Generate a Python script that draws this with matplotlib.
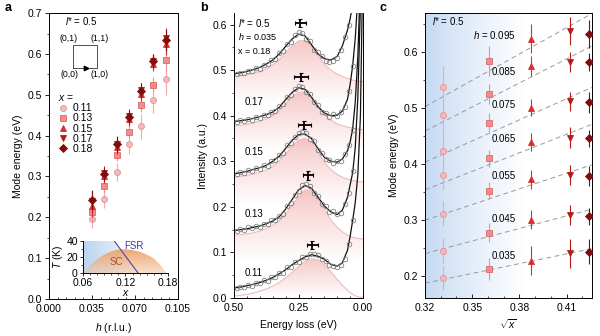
import numpy as np
import matplotlib
import matplotlib.pyplot as plt
from matplotlib.colors import to_rgb
from matplotlib.lines import Line2D
from matplotlib.ticker import MultipleLocator, FixedLocator

matplotlib.use('Agg')

plt.rcParams['font.family'] = ['Liberation Sans', 'DejaVu Sans']
plt.rcParams['mathtext.fontset'] = 'custom'
plt.rcParams['mathtext.rm'] = 'Liberation Sans'
plt.rcParams['mathtext.it'] = 'Liberation Sans:italic'
plt.rcParams['font.size'] = 7.5
plt.rcParams['axes.linewidth'] = 0.7

# ============================================================================
# 数据
# ============================================================================

h_vals = [0.035, 0.045, 0.055, 0.065, 0.075, 0.085, 0.095]
dopings = [0.11, 0.13, 0.15, 0.17, 0.18]
doping_labels = ['0.11', '0.13', '0.15', '0.17', '0.18']

# 模式能量 (eV)，每个掺杂量对应 h_vals
e_x011 = [0.196, 0.245, 0.311, 0.380, 0.423, 0.487, 0.538]
e_x013 = [0.212, 0.277, 0.352, 0.410, 0.474, 0.525, 0.584]
e_x015 = [0.227, 0.300, 0.373, 0.440, 0.501, 0.576, 0.624]
e_x017 = [0.240, 0.308, 0.380, 0.447, 0.512, 0.582, 0.638]
e_x018 = [0.243, 0.306, 0.379, 0.446, 0.510, 0.583, 0.633]

err_x011 = [0.021, 0.022, 0.022, 0.025, 0.030, 0.032, 0.038]
err_x013 = [0.020, 0.017, 0.015, 0.015, 0.017, 0.018, 0.027]
err_x015 = [0.026, 0.017, 0.017, 0.016, 0.016, 0.018, 0.026]
err_x017 = [0.026, 0.018, 0.018, 0.019, 0.017, 0.018, 0.025]
err_x018 = [0.022, 0.016, 0.018, 0.015, 0.018, 0.016, 0.025]

# RIXS 谱 (h = 0.035)：拟合曲线、峰分量、实验点
E_fit = [0.50, 0.475, 0.45, 0.425, 0.40, 0.375, 0.35, 0.325, 0.30, 0.275, 0.25,
         0.225, 0.20, 0.175, 0.15, 0.125, 0.10, 0.08, 0.06, 0.05, 0.04, 0.03,
         0.02, 0.01, 0.0]

fit_018 = [0.492, 0.494, 0.497, 0.501, 0.506, 0.513, 0.522, 0.535, 0.552, 0.568, 0.579,
           0.575, 0.556, 0.536, 0.525, 0.522, 0.530, 0.553, 0.588, 0.612, 0.645, 0.70,
           0.80, 0.95, 1.15]
fit_017 = [0.387, 0.389, 0.391, 0.394, 0.398, 0.402, 0.408, 0.418, 0.435, 0.451, 0.461,
           0.458, 0.441, 0.420, 0.406, 0.400, 0.401, 0.410, 0.436, 0.468, 0.51, 0.57,
           0.66, 0.80, 1.0]
fit_015 = [0.272, 0.275, 0.278, 0.282, 0.286, 0.291, 0.300, 0.311, 0.328, 0.346, 0.358,
           0.360, 0.350, 0.328, 0.309, 0.300, 0.298, 0.305, 0.323, 0.342, 0.371, 0.43,
           0.53, 0.70, 0.95]
fit_013 = [0.148, 0.150, 0.152, 0.155, 0.158, 0.163, 0.169, 0.178, 0.195, 0.216, 0.237,
           0.247, 0.241, 0.222, 0.202, 0.189, 0.183, 0.193, 0.221, 0.248, 0.275, 0.33,
           0.44, 0.64, 0.90]
fit_011 = [0.022, 0.024, 0.027, 0.030, 0.034, 0.039, 0.045, 0.053, 0.062, 0.073, 0.082,
           0.090, 0.095, 0.092, 0.085, 0.074, 0.070, 0.077, 0.105, 0.135, 0.17, 0.21,
           0.27, 0.40, 0.75]

peak_018 = [0.486, 0.488, 0.490, 0.493, 0.497, 0.503, 0.511, 0.523, 0.538, 0.553, 0.564,
            0.565, 0.552, 0.532, 0.513, 0.500, 0.491, 0.486, 0.482, 0.480, 0.478, 0.477,
            0.476, 0.475, 0.475]
peak_017 = [0.378, 0.379, 0.381, 0.384, 0.388, 0.393, 0.400, 0.411, 0.426, 0.441, 0.451,
            0.452, 0.440, 0.420, 0.402, 0.390, 0.382, 0.378, 0.375, 0.374, 0.373, 0.372,
            0.371, 0.370, 0.370]
peak_015 = [0.265, 0.267, 0.269, 0.272, 0.276, 0.281, 0.289, 0.300, 0.316, 0.333, 0.346,
            0.350, 0.341, 0.320, 0.298, 0.282, 0.271, 0.265, 0.261, 0.259, 0.258, 0.257,
            0.256, 0.255, 0.255]
peak_013 = [0.138, 0.139, 0.141, 0.143, 0.147, 0.152, 0.159, 0.169, 0.184, 0.203, 0.223,
            0.237, 0.237, 0.221, 0.196, 0.172, 0.155, 0.145, 0.138, 0.135, 0.133, 0.132,
            0.131, 0.130, 0.130]
peak_011 = [0.004, 0.006, 0.008, 0.011, 0.015, 0.020, 0.026, 0.034, 0.044, 0.056, 0.069,
            0.080, 0.086, 0.084, 0.074, 0.058, 0.041, 0.028, 0.017, 0.012, 0.008, 0.005,
            0.003, 0.002, 0.002]

E_pts = [0.49, 0.475, 0.46, 0.445, 0.43, 0.415, 0.40, 0.385, 0.37, 0.355, 0.34, 0.325,
         0.31, 0.295, 0.28, 0.265, 0.25, 0.235, 0.22, 0.205, 0.19, 0.175, 0.16, 0.145,
         0.13, 0.115, 0.10, 0.085, 0.07, 0.055, 0.04]

pts_018 = [0.491, 0.494, 0.493, 0.499, 0.498, 0.505, 0.503, 0.512, 0.513, 0.523, 0.524,
           0.538, 0.542, 0.558, 0.562, 0.576, 0.584, 0.582, 0.569, 0.563, 0.545, 0.539,
           0.532, 0.519, 0.518, 0.521, 0.527, 0.544, 0.572, 0.598, 0.647]
pts_017 = [0.386, 0.390, 0.388, 0.393, 0.391, 0.397, 0.396, 0.402, 0.401, 0.409, 0.410,
           0.421, 0.425, 0.441, 0.446, 0.459, 0.465, 0.463, 0.452, 0.448, 0.430, 0.423,
           0.408, 0.406, 0.398, 0.403, 0.399, 0.409, 0.420, 0.455, 0.508]
pts_015 = [0.271, 0.276, 0.275, 0.281, 0.279, 0.286, 0.284, 0.291, 0.290, 0.301, 0.302,
           0.314, 0.318, 0.335, 0.340, 0.354, 0.361, 0.364, 0.361, 0.349, 0.345, 0.325,
           0.319, 0.304, 0.303, 0.296, 0.300, 0.301, 0.316, 0.336, 0.368]
pts_013 = [0.147, 0.151, 0.149, 0.155, 0.153, 0.158, 0.156, 0.163, 0.162, 0.171, 0.171,
           0.181, 0.185, 0.202, 0.209, 0.227, 0.234, 0.247, 0.250, 0.246, 0.231, 0.224,
           0.206, 0.201, 0.188, 0.190, 0.185, 0.187, 0.207, 0.231, 0.278]
pts_011 = [0.021, 0.025, 0.024, 0.029, 0.027, 0.034, 0.032, 0.039, 0.038, 0.047, 0.046,
           0.056, 0.056, 0.067, 0.069, 0.080, 0.079, 0.090, 0.089, 0.097, 0.096, 0.094,
           0.085, 0.081, 0.073, 0.070, 0.069, 0.072, 0.086, 0.118, 0.172]

# 相图插图：超导穹顶
dome_x = [0.06, 0.07, 0.08, 0.09, 0.10, 0.11, 0.12, 0.13, 0.14, 0.15, 0.16, 0.17, 0.177]
dome_T = [0, 10, 17, 23, 27, 29.5, 29.5, 28.5, 26.5, 23, 18, 9, 0]
fsr_x = [0.104, 0.138]
fsr_T = [40, 0]

# ============================================================================
# 样式
# ============================================================================

MARKERS = ['o', 's', '^', 'v', 'D']
FACE = ['#f6b9b9', '#ef8c8c', '#dc2c2c', '#b41c1c', '#7e0e0e']
EDGE = ['#e09393', '#d86a6a', '#dc2c2c', '#b41c1c', '#7e0e0e']
ECOL = ['#f2a9a9', '#ee9090', '#dc2c2c', '#b41c1c', '#7e0e0e']
MSIZE = [4.3, 4.3, 4.6, 4.6, 3.9]

energies = [e_x011, e_x013, e_x015, e_x017, e_x018]
errors = [err_x011, err_x013, err_x015, err_x017, err_x018]
fits = [fit_011, fit_013, fit_015, fit_017, fit_018]
peaks = [peak_011, peak_013, peak_015, peak_017, peak_018]
points = [pts_011, pts_013, pts_015, pts_017, pts_018]

LSTAR = r'$l$* = 0.5'


def style_ticks(ax):
    ax.tick_params(axis='y', which='both', direction='out')
    ax.tick_params(axis='x', which='both', direction='in')
    ax.tick_params(which='major', length=3, width=0.6, pad=2)
    ax.tick_params(axis='x', which='major', pad=3.5)
    ax.tick_params(which='minor', length=1.6, width=0.5)


def gradient_fill(ax, x, ytop, ybot, color, alpha, zorder):
    """在 ytop 与 ybot 之间画竖直渐变（下淡上浓）"""
    poly = ax.fill_between(x, ytop, ybot, facecolor='none', edgecolor='none')
    path = poly.get_paths()[0]
    rgba = np.ones((120, 1, 4))
    rgba[:, :, :3] = to_rgb(color)
    rgba[:, 0, 3] = np.linspace(0, alpha, 120)
    im = ax.imshow(rgba, aspect='auto', origin='lower', zorder=zorder,
                   extent=[min(x), max(x), min(ybot), max(ytop)], interpolation='bilinear')
    im.set_clip_path(path, transform=ax.transData)


fig = plt.figure(figsize=(6.0, 3.36), dpi=100)

# ============================================================================
# a: 模式能量 vs h
# ============================================================================

ax_a = fig.add_axes([0.0817, 0.110, 0.215, 0.851])
for i in range(len(dopings)):
    ax_a.errorbar(h_vals, energies[i], yerr=errors[i], fmt=MARKERS[i], ms=MSIZE[i],
                  mfc=FACE[i], mec=EDGE[i], mew=0.6, ecolor=ECOL[i], elinewidth=0.8,
                  capsize=0, zorder=3 + i)
ax_a.set_xlim(0, 0.105)
ax_a.set_ylim(0, 0.7)
ax_a.xaxis.set_major_locator(FixedLocator([0, 0.035, 0.070, 0.105]))
ax_a.set_xticklabels(['0.000', '0.035', '0.070', '0.105'])
ax_a.xaxis.set_minor_locator(MultipleLocator(0.007))
ax_a.yaxis.set_major_locator(MultipleLocator(0.1))
ax_a.yaxis.set_minor_locator(MultipleLocator(0.05))
ax_a.set_xlabel(r'$h$ (r.l.u.)', labelpad=5)
ax_a.set_ylabel('Mode energy (eV)', labelpad=3)
style_ticks(ax_a)

handles = [Line2D([], [], ls='none', marker=MARKERS[i], ms=MSIZE[i], mfc=FACE[i],
                  mec=EDGE[i], mew=0.6) for i in range(len(dopings))]
leg = ax_a.legend(handles, doping_labels, title=r'$x$ =', loc='upper left',
                  bbox_to_anchor=(0.04, 0.735), frameon=False, handlelength=0.9,
                  handletextpad=0.5, labelspacing=0.02, borderaxespad=0,
                  alignment='left', fontsize=7.5, title_fontsize=7.5)

# 布里渊区示意
tA = ax_a.transAxes
ax_a.plot([0.188, 0.370, 0.370, 0.188, 0.188], [0.809, 0.809, 0.888, 0.888, 0.809],
          color='#333333', lw=0.6, transform=tA)
ax_a.plot([0.287], [0.809], marker='>', ms=3.2, color='k', transform=tA)
ax_a.text(0.155, 0.912, '(0,1)', transform=tA, ha='center', va='center', fontsize=6.3)
ax_a.text(0.395, 0.912, '(1,1)', transform=tA, ha='center', va='center', fontsize=6.3)
ax_a.text(0.155, 0.785, '(0,0)', transform=tA, ha='center', va='center', fontsize=6.3)
ax_a.text(0.395, 0.785, '(1,0)', transform=tA, ha='center', va='center', fontsize=6.3)
ax_a.text(0.125, 0.972, LSTAR, transform=tA, ha='left', va='center', fontsize=7)

# 相图插图
ax_in = fig.add_axes([0.1378, 0.1866, 0.1427, 0.097])
poly_x = [0.06, 0.06, fsr_x[0], fsr_x[1]]
poly_T = [0, 40, fsr_T[0], fsr_T[1]]
blue = ax_in.fill(poly_x, poly_T, facecolor='none', edgecolor='none')[0]
grad = np.ones((1, 200, 4))
grad[0, :, :3] = to_rgb('#b7d0f0')
grad[0, :, 3] = np.linspace(0.95, 0.05, 200)
im = ax_in.imshow(grad, aspect='auto', extent=[0.06, 0.14, 0, 40], zorder=1,
                  interpolation='bilinear')
im.set_clip_path(blue)
gradient_fill(ax_in, dome_x, dome_T, [0] * len(dome_x), '#ee9f66', 0.9, 2)
ax_in.fill_between(dome_x, dome_T, 0, color='#f5c7a2', alpha=0.55, lw=0, zorder=1.5)
ax_in.plot(fsr_x, fsr_T, color='#4646a8', lw=0.8, zorder=3)
ax_in.text(0.118, 33, 'FSR', color='#3c3ca0', fontsize=7, va='center', ha='left')
ax_in.text(0.107, 14, 'SC', color='#a4532a', fontsize=7, va='center', ha='center')
ax_in.set_xlim(0.06, 0.18)
ax_in.set_ylim(0, 40)
ax_in.set_xticks([0.06, 0.12, 0.18])
ax_in.set_xticklabels(['0.06', '0.12', '0.18'])
ax_in.set_yticks([0, 20, 40])
ax_in.xaxis.set_minor_locator(MultipleLocator(0.01))
ax_in.yaxis.set_minor_locator(MultipleLocator(10))
for side in ['top', 'right']:
    ax_in.spines[side].set_visible(False)
ax_in.set_facecolor('none')
ax_in.tick_params(which='major', length=2.5, width=0.6, pad=1, labelsize=7.5)
ax_in.tick_params(which='minor', length=1.4, width=0.5)
ax_in.set_xlabel(r'$x$', labelpad=0, fontsize=7.5)
ax_in.set_ylabel(r'$T$ (K)', labelpad=1, fontsize=7.5)

# ============================================================================
# b: RIXS 谱
# ============================================================================

ax_b = fig.add_axes([0.39, 0.113, 0.215, 0.848])
for i in range(len(dopings)):
    base = 0.0 if i == 0 else min(peaks[i]) - 0.05
    gradient_fill(ax_b, E_fit, peaks[i], [base] * len(E_fit), '#ee9c9c', 0.55, 1)
    ax_b.plot(E_fit, peaks[i], color='#efbcbc', lw=0.8, zorder=2)
    ax_b.plot(E_fit, fits[i], color='#111111', lw=0.9, zorder=3)
    ax_b.plot(E_pts, points[i], ls='none', marker='o', ms=3.3, mfc='none',
              mec='#7a7a7a', mew=0.55, zorder=4)

# 峰位及误差（取自 h = 0.035 的模式能量）
cross_y = [0.116, 0.269, 0.380, 0.485, 0.604]
for i in range(len(dopings)):
    ax_b.errorbar(energies[i][0], cross_y[i], xerr=errors[i][0], yerr=0.009, fmt='none',
                  ecolor='k', elinewidth=1.3, capsize=1.5, capthick=0.8, zorder=5)

tag_y = [0.054, 0.185, 0.320, 0.430]
for i in range(4):
    ax_b.text(0.424, tag_y[i], doping_labels[i], ha='center', va='center', fontsize=7)
ax_b.text(0.484, 0.604, LSTAR, ha='left', va='center', fontsize=7)
ax_b.text(0.484, 0.573, r'$h$ = 0.035', ha='left', va='center', fontsize=6.5)
ax_b.text(0.484, 0.540, 'x = 0.18', ha='left', va='center', fontsize=6.5)

ax_b.set_xlim(0.5, 0.0)
ax_b.set_ylim(0, 0.625)
ax_b.set_xticks([0.5, 0.25, 0.0])
ax_b.set_xticklabels(['0.50', '0.25', '0.00'])
ax_b.xaxis.set_minor_locator(MultipleLocator(0.05))
ax_b.yaxis.set_major_locator(MultipleLocator(0.1))
ax_b.yaxis.set_minor_locator(MultipleLocator(0.05))
ax_b.set_xlabel('Energy loss (eV)', labelpad=5)
ax_b.set_ylabel('Intensity (a.u.)', labelpad=3)
ax_b.spines['top'].set_visible(False)
style_ticks(ax_b)

# ============================================================================
# c: 模式能量 vs sqrt(x)
# ============================================================================

ax_c = fig.add_axes([0.7083, 0.113, 0.278, 0.848])
xlim_c = (0.32, 0.426)
ylim_c = (0.16, 0.67)
bg = np.ones((1, 300, 3))
t = np.clip(np.linspace(0, 1, 300) / 0.6, 0, 1) ** 0.8
bg[0, :, :] = np.outer(1 - t, to_rgb('#c3d8f3')) + np.outer(t, [1, 1, 1])
ax_c.imshow(bg, aspect='auto', extent=[*xlim_c, *ylim_c], zorder=0, interpolation='bilinear')

sqrt_x = np.sqrt(dopings)
for j in range(len(h_vals)):
    e_row = np.array([energies[i][j] for i in range(len(dopings))])
    slope = np.sum(sqrt_x * e_row) / np.sum(sqrt_x ** 2)   # E ∝ sqrt(x)
    xx = np.array(xlim_c)
    ax_c.plot(xx, slope * xx, ls=(0, (5, 3.5)), color='#9a9a9a', lw=0.7, zorder=1)

for i in range(len(dopings)):
    ax_c.errorbar([sqrt_x[i]] * len(h_vals), energies[i], yerr=errors[i], fmt=MARKERS[i],
                  ms=MSIZE[i], mfc=FACE[i], mec=EDGE[i], mew=0.6, ecolor=ECOL[i],
                  elinewidth=0.8, capsize=0, zorder=3)

label_y = [0.236, 0.302, 0.379, 0.445, 0.505, 0.564, 0.630]
for j, h in enumerate(h_vals):
    txt = f'$h$ = {h:.3f}' if j == len(h_vals) - 1 else f'{h:.3f}'
    ax_c.text(0.3775, label_y[j], txt, ha='right', va='center', fontsize=7, zorder=2)
ax_c.text(0.3245, 0.655, LSTAR, ha='left', va='center', fontsize=7)

ax_c.set_xlim(*xlim_c)
ax_c.set_ylim(*ylim_c)
ax_c.set_xticks([0.32, 0.35, 0.38, 0.41])
ax_c.set_xticklabels(['0.32', '0.35', '0.38', '0.41'])
ax_c.xaxis.set_minor_locator(MultipleLocator(0.01))
ax_c.yaxis.set_major_locator(MultipleLocator(0.1))
ax_c.yaxis.set_minor_locator(MultipleLocator(0.05))
ax_c.set_xlabel(r'$\sqrt{x}$', labelpad=3)
ax_c.set_ylabel('Mode energy (eV)', labelpad=3)
style_ticks(ax_c)

# 面板编号
for lbl, xpos in [('a', 0.008), ('b', 0.333), ('c', 0.633)]:
    fig.text(xpos, 0.975, lbl, fontsize=9, fontweight='bold', ha='left', va='center')

fig.savefig('out.png', dpi=100)
